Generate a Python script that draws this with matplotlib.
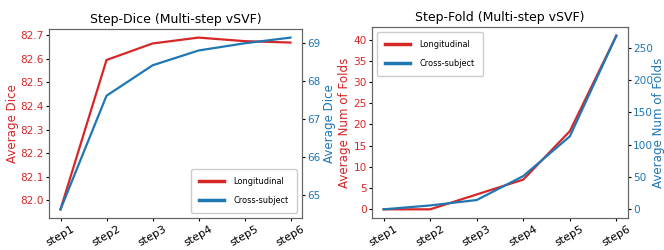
import numpy as np
import matplotlib
matplotlib.use("Agg")
import matplotlib.pyplot as plt

steps = ["step1", "step2", "step3", "step4", "step5", "step6"]

# Step-Dice
dice_long = [81.962, 82.595, 82.665, 82.690, 82.675, 82.669]
dice_cross = [64.61, 67.60, 68.40, 68.79, 68.98, 69.13]

# Step-Fold
fold_long = [0.0, 0.0, 3.5, 7.0, 18.4, 40.9]
fold_cross = [0.0, 6.0, 14.4, 51.5, 113.0, 269.0]

c_red = "tab:red"
c_blue = "tab:blue"

fig = plt.figure(figsize=(6.64, 2.5), dpi=100)


def draw(ax, y1, y2, title, label, yticks1, yticks2, loc, lx1, lx2):
    x = np.arange(len(steps))
    l1, = ax.plot(x, y1, color=c_red, lw=1.6)
    ax.set_ylabel(label, color=c_red, fontsize=8.6)
    ax.yaxis.set_label_coords(lx1, 0.5)
    ax.tick_params(axis="y", labelcolor=c_red, labelsize=7.6, pad=1.3, length=2.4)
    ax.set_yticks(yticks1)
    ax.set_xticks(x)
    ax.set_xticklabels(steps, rotation=30, fontsize=8)
    ax.tick_params(axis="x", pad=1.5, length=2.4)
    ax.set_title(title, fontsize=9, pad=4)
    ax2 = ax.twinx()
    l2, = ax2.plot(x, y2, color=c_blue, lw=1.6)
    ax2.set_ylabel(label, color=c_blue, fontsize=8.6)
    ax2.yaxis.set_label_coords(lx2, 0.5)
    ax2.tick_params(axis="y", labelcolor=c_blue, labelsize=7.6, pad=1.3, length=2.4)
    ax2.set_yticks(yticks2)
    for a in (ax, ax2):
        for s in a.spines.values():
            s.set_color("#666666")
    leg = ax.legend([l1, l2], ["Longitudinal", "Cross-subject"], loc=loc,
                    fontsize=5.9, handlelength=3.0, borderpad=1.0, labelspacing=1.2,
                    handletextpad=1.2, framealpha=1.0, borderaxespad=0.6)
    for h in leg.get_lines():
        h.set_linewidth(2.5)
    return ax2


ax_a = fig.add_axes([49 / 664, 32 / 250, 253 / 664, 189 / 250])
draw(ax_a, dice_long, dice_cross, "Step-Dice (Multi-step vSVF)", "Average Dice",
     [82.0, 82.1, 82.2, 82.3, 82.4, 82.5, 82.6, 82.7], [65, 66, 67, 68, 69],
     "lower right", -0.119, 1.083)
ax_a.set_yticklabels(["82.0", "82.1", "82.2", "82.3", "82.4", "82.5", "82.6", "82.7"])

ax_b = fig.add_axes([372 / 664, 32 / 250, 256 / 664, 191 / 250])
draw(ax_b, fold_long, fold_cross, "Step-Fold (Multi-step vSVF)", "Average Num of Folds",
     [0, 5, 10, 15, 20, 25, 30, 35, 40], [0, 50, 100, 150, 200, 250],
     "upper left", -0.082, 1.094)

fig.savefig("out.png", dpi=100)
